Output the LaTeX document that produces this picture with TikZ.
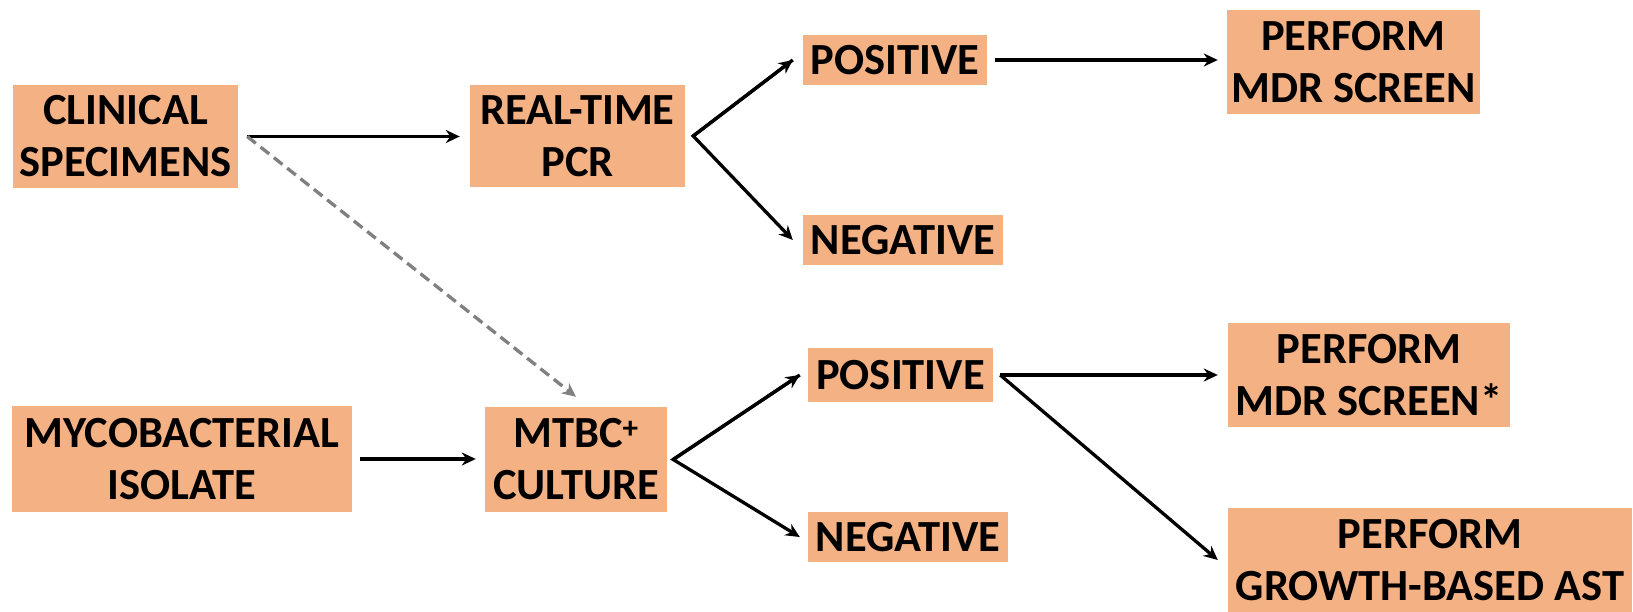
\documentclass[tikz,border=0pt]{standalone}
\usepackage{fontspec}
\setmainfont{Carlito}
\usetikzlibrary{arrows.meta,backgrounds,calc}
\definecolor{boxc}{HTML}{F4B183}
\definecolor{dashc}{HTML}{808080}
\tikzset{
  box/.style={fill=boxc, inner sep=0pt, align=center,
    font=\fontsize{44.5}{52}\selectfont\bfseries},
  arr/.style={line width=3.3pt, -{Stealth[length=14pt,width=13pt,inset=4.5pt]}},
  dasharr/.style={line width=3.3pt, draw=dashc, dash pattern=on 11pt off 6pt,
    -{Stealth[length=14pt,width=13pt,inset=4.5pt,fill=dashc]}},
}
\begin{document}
\begin{tikzpicture}[x=1pt,y=-1pt]
\fill[white] (0,0) rectangle (1633,612);
\useasboundingbox (0,0) rectangle (1633,612);

\node[box, minimum width=225pt, minimum height=103pt] (cs) at (125.5,136.5) {CLINICAL\\SPECIMENS};
\node[box, minimum width=215pt, minimum height=102pt] (pcr) at (577.5,136) {REAL-TIME\\PCR};
\node[box, minimum width=184pt, minimum height=50pt] (pos1) at (895,60) {POSITIVE};
\node[box, minimum width=200pt, minimum height=50pt] (neg1) at (903,240) {NEGATIVE};
\node[box, minimum width=253pt, minimum height=104pt] (mdr1) at (1353.5,62) {PERFORM\\MDR SCREEN};
\node[box, minimum width=340pt, minimum height=106pt] (iso) at (182,459) {MYCOBACTERIAL\\ISOLATE};
\node[box, minimum width=182pt, minimum height=105pt] (mtbc) at (576,459.5) {MTBC\textsuperscript{+}\\CULTURE};
\node[box, minimum width=185pt, minimum height=54pt] (pos2) at (900.5,375) {POSITIVE};
\node[box, minimum width=200pt, minimum height=50pt] (neg2) at (908,537) {NEGATIVE};
\node[box, minimum width=282pt, minimum height=104pt] (mdr2) at (1369,375) {PERFORM\\MDR SCREEN*};
\node[box, minimum width=404pt, minimum height=104pt] (ast) at (1430,560) {PERFORM\\GROWTH-BASED AST};

\begin{scope}[on background layer]
\foreach \n in {cs,pcr,pos1,neg1,mdr1,iso,mtbc,pos2,neg2,mdr2,ast}{
  \foreach \d/\o in {1.5/0.35,3/0.22,4.5/0.12,6/0.06}{
    \fill[boxc, opacity=\o] ([shift={(-\d,-\d)}]\n.north west) rectangle ([shift={(\d,\d)}]\n.south east);
  }
}
\end{scope}

\coordinate (csout) at ([xshift=9pt]cs.east);
\coordinate (v1) at ([xshift=8pt]pcr.east);
\coordinate (v2) at ([xshift=6pt]mtbc.east);
\coordinate (v3) at ([xshift=7pt]pos2.east);

\draw[arr, shorten >=10pt] (csout) -- (cs.east -| pcr.west);
\draw[dasharr] (csout) -- ([yshift=10pt]mtbc.north);

\draw[arr, line join=miter] ([xshift=-10pt]pos1.west) -- (v1) -- ([xshift=-10pt]neg1.west);
\draw[arr] (v1) -- ([xshift=-10pt]pos1.west);
\draw[arr, shorten <=8pt, shorten >=9pt] (pos1.east) -- (pos1.east -| mdr1.west);

\draw[arr, shorten <=8pt, shorten >=9pt] (iso.east) -- (iso.east -| mtbc.west);
\draw[arr, line join=miter] ([xshift=-8pt]pos2.west) -- (v2) -- ([xshift=-8pt]neg2.west);
\draw[arr] (v2) -- ([xshift=-8pt]pos2.west);

\draw[arr, shorten >=10pt] (v3) -- (v3 -| mdr2.west);
\draw[arr] (v3) -- ([xshift=-10pt]ast.west);
\end{tikzpicture}
\end{document}
